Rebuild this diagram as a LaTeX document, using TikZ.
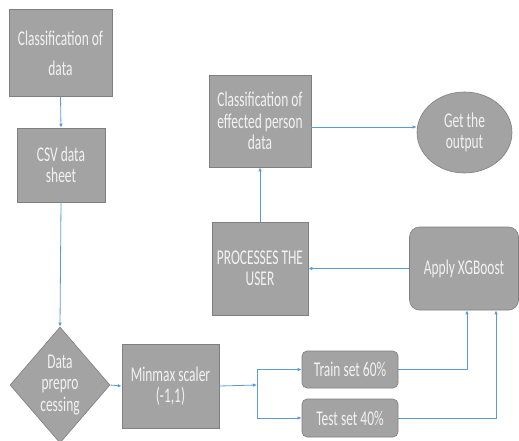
\documentclass[tikz,border=0pt]{standalone}
\usepackage{fontspec}
\setmainfont{Carlito}[FakeStretch=0.64]
\usetikzlibrary{shapes.geometric,arrows.meta,calc}
\definecolor{boxfill}{HTML}{A3A3A3}
\definecolor{boxline}{HTML}{7F7F7F}
\definecolor{boxtext}{HTML}{F2F2F2}
\definecolor{arrowblue}{HTML}{5B9BD5}
\begin{document}
\begin{tikzpicture}[x=1pt,y=-1pt,
  base/.style={fill=boxfill,draw=boxline,line width=0.6pt,text=boxtext,align=center,inner sep=0pt,
    font=\fontsize{21}{21.5}\selectfont},
  sq/.style={base,rectangle},
  rnd/.style={base,rectangle,rounded corners=5pt},
  dia/.style={base,diamond},
  ell/.style={base,ellipse},
  arr/.style={draw=arrowblue,line width=0.8pt,-{Latex[length=4pt,width=3.5pt]}},
  ln/.style={draw=arrowblue,line width=0.8pt}]
\useasboundingbox (0,0) rectangle (519,441);
\node[sq,minimum width=103pt,minimum height=87pt,font=\fontsize{21}{30}\selectfont] (c1) at (60.5,53) {Classification of\\data};
\node[sq,minimum width=88pt,minimum height=74pt] (csv) at (61,165) {CSV data\\sheet};
\node[dia,minimum width=100pt,minimum height=116pt] (dp) at (60,385) {Data\\prepro\\cessing};
\node[sq,minimum width=97pt,minimum height=84pt] (mm) at (170.5,386) {Minmax scaler\\(-1,1)};
\node[rnd,minimum width=96pt,minimum height=37pt] (train) at (350,369.5) {Train set 60\%};
\node[rnd,minimum width=96pt,minimum height=38pt] (test) at (350,418) {Test set 40\%};
\node[rnd,rounded corners=10pt,minimum width=109pt,minimum height=83pt] (xgb) at (464,268.5) {Apply XGBoost};
\node[sq,minimum width=96pt,minimum height=93pt] (proc) at (260,268.5) {PROCESSES THE\\USER};
\node[sq,minimum width=102pt,minimum height=92pt] (eff) at (260,121) {Classification of\\effected person\\data};
\node[ell,minimum width=95pt,minimum height=81pt] (out) at (464.5,132.5) {Get the\\output};
\coordinate (split) at (257,385);
\coordinate (ea) at ($(eff.east)+(0,6)$);
\draw[arr] (c1.south) -- (csv.north);
\draw[arr] (csv.south) -- (dp.north);
\draw[arr] (dp.east) -- (mm.west);
\draw[arr] (mm.east) -- (split);
\draw[arr] (split) |- (train.west);
\draw[arr] (split) |- (test.west);
\draw[arr] (train.east) -| ([xshift=3pt]xgb.south);
\draw[arr] (test.east) -| ([xshift=32pt]xgb.south);
\draw[arr] (xgb.west) -- (proc.east);
\draw[arr] (proc.north) -- (eff.south);
\draw[arr] (ea) -- (ea -| out.west);
\end{tikzpicture}
\end{document}
